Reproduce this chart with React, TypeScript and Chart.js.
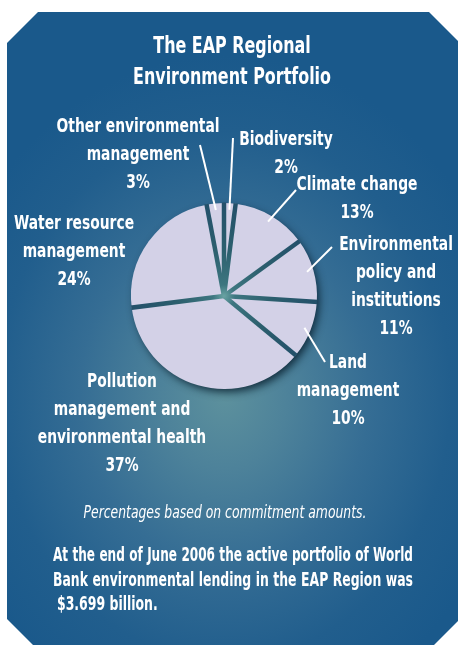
import React, { useEffect, useRef } from 'react';
import { Chart, registerables } from 'chart.js';

Chart.register(...registerables);

// ---- data ----
const titleLines = ['The EAP Regional', 'Environment Portfolio'];
const categories = [
  'Biodiversity',
  'Climate change',
  'Environmental policy and institutions',
  'Land management',
  'Pollution management and environmental health',
  'Water resource management',
  'Other environmental management',
];
const shares = [2, 13, 11, 10, 37, 24, 3];
const labelText = [
  ['Biodiversity'],
  ['Climate change'],
  ['Environmental', 'policy and', 'institutions'],
  ['Land', 'management'],
  ['Pollution', 'management and', 'environmental health'],
  ['Water resource', 'management'],
  ['Other environmental', 'management'],
];
const noteText = 'Percentages based on commitment amounts.';
const summaryLines = [
  'At the end of June 2006 the active portfolio of World',
  'Bank environmental lending in the EAP Region was',
  '$3.699 billion.',
];

// ---- layout / style ----
const FONT = '"Liberation Sans Narrow", "DejaVu Sans Condensed", "DejaVu Sans", sans-serif';
const SLICE = '#d3d1e7';
const SX = 0.77; // horizontal condensing of text
const labelLayout: { x: number; y: number; lx?: number; ly?: number }[] = [
  { x: 286, y: 140, lx: 233, ly: 138 },
  { x: 357, y: 185, lx: 296, ly: 190 },
  { x: 396, y: 245, lx: 332, ly: 247 },
  { x: 348, y: 363, lx: 325, ly: 362 },
  { x: 122, y: 382 },
  { x: 74, y: 224 },
  { x: 138, y: 127, lx: 200, ly: 145 },
];

function measureText(t: string, font: string): number {
  const c = document.createElement('canvas').getContext('2d');
  if (!c) return t.length * 10;
  c.font = font;
  return c.measureText(t).width;
}

const piePlugin = {
  id: 'pieDecor',
  beforeDatasetsDraw(chart: any) {
    const arcs = chart.getDatasetMeta(0).data;
    if (!arcs.length) return;
    const { x, y, outerRadius } = arcs[0].getProps(['x', 'y', 'outerRadius'], true);
    const ctx = chart.ctx;
    ctx.save();
    ctx.shadowColor = 'rgba(6,28,44,0.85)';
    ctx.shadowBlur = 9;
    ctx.shadowOffsetX = 3;
    ctx.shadowOffsetY = 4;
    ctx.fillStyle = SLICE;
    ctx.beginPath();
    ctx.arc(x, y, outerRadius - 1, 0, Math.PI * 2);
    ctx.fill();
    ctx.restore();
  },
  afterDatasetsDraw(chart: any) {
    const arcs = chart.getDatasetMeta(0).data;
    if (!arcs.length) return;
    const { x, y, outerRadius } = arcs[0].getProps(['x', 'y', 'outerRadius'], true);
    const ctx = chart.ctx;
    ctx.save();
    ctx.beginPath();
    ctx.arc(x, y, outerRadius + 0.5, 0, Math.PI * 2);
    ctx.clip();
    const g = ctx.createRadialGradient(x, y, 0, x, y, outerRadius);
    g.addColorStop(0, '#6aa3a3');
    g.addColorStop(0.12, '#3d7680');
    g.addColorStop(0.5, '#2c5f6e');
    g.addColorStop(1, '#23506a');
    ctx.strokeStyle = g;
    ctx.lineWidth = 4.5;
    ctx.lineCap = 'butt';
    arcs.forEach((arc: any) => {
      const { startAngle } = arc.getProps(['startAngle'], true);
      ctx.beginPath();
      ctx.moveTo(x, y);
      ctx.lineTo(x + Math.cos(startAngle) * (outerRadius + 4), y + Math.sin(startAngle) * (outerRadius + 4));
      ctx.stroke();
    });
    ctx.restore();
  },
  afterDraw(chart: any) {
    const arcs = chart.getDatasetMeta(0).data;
    const ctx = chart.ctx;
    ctx.save();
    ctx.fillStyle = '#ffffff';
    ctx.strokeStyle = '#ffffff';
    ctx.lineWidth = 2;
    ctx.font = `bold 20px ${FONT}`;
    ctx.textAlign = 'center';
    ctx.textBaseline = 'middle';
    arcs.forEach((arc: any, i: number) => {
      const L = labelLayout[i];
      if (!L) return;
      const { x, y, startAngle, endAngle, outerRadius } = arc.getProps(
        ['x', 'y', 'startAngle', 'endAngle', 'outerRadius'],
        true
      );
      if (L.lx !== undefined && L.ly !== undefined) {
        const mid = (startAngle + endAngle) / 2;
        const r = outerRadius * 0.93;
        ctx.beginPath();
        ctx.moveTo(L.lx, L.ly);
        ctx.lineTo(x + Math.cos(mid) * r, y + Math.sin(mid) * r);
        ctx.stroke();
      }
      const lines = [...labelText[i], `${shares[i]}%`];
      lines.forEach((t, k) => {
        ctx.save();
        ctx.translate(L.x, L.y + k * 28);
        ctx.scale(SX, 1);
        ctx.fillText(t, 0, 0);
        ctx.restore();
      });
    });
    ctx.restore();
  },
};

export default function App() {
  const ref = useRef<HTMLCanvasElement>(null);
  useEffect(() => {
    const chart = new Chart(ref.current as HTMLCanvasElement, {
      type: 'pie',
      data: {
        labels: categories,
        datasets: [
          {
            data: shares,
            backgroundColor: SLICE,
            borderWidth: 0,
            radius: 93,
          } as any,
        ],
      },
      options: {
        responsive: false,
        animation: false,
        devicePixelRatio: 1,
        layout: { padding: { left: 0, right: 10, top: 92, bottom: 145 } },
        plugins: {
          legend: { display: false },
          tooltip: { enabled: false },
          title: { display: false },
        },
      },
      plugins: [piePlugin],
    });
    return () => chart.destroy();
  }, []);

  const cut = 31;
  const summaryFont = `bold 19px ${FONT}`;
  const summaryWidth = 360;
  const baseScale = 0.73;
  return (
    <div style={{ position: 'absolute', left: 0, top: 0, width: 458, height: 645, overflow: 'hidden', background: '#fff' }}>
      <div
        style={{
          position: 'absolute',
          left: 7,
          top: 12,
          width: 453,
          height: 638,
          clipPath: `polygon(${cut}px 0, calc(100% - ${cut}px) 0, 100% ${cut}px, 100% calc(100% - ${cut}px), calc(100% - ${cut}px) 100%, ${cut}px 100%, 0 calc(100% - ${cut}px), 0 ${cut}px)`,
          background:
            'radial-gradient(ellipse 290px 340px at 48% 60%, #5d919d 0%, #4d829a 22%, #356d94 50%, #215e8d 78%, #1a598b 100%)',
        }}
      />
      <canvas ref={ref} width={458} height={645} style={{ position: 'absolute', left: 0, top: 0 }} />
      <div
        style={{
          position: 'absolute',
          left: 0,
          width: 464,
          top: 30,
          textAlign: 'center',
          color: '#fff',
          fontFamily: FONT,
          fontWeight: 'bold',
          fontSize: 23,
          lineHeight: '31px',
          transform: 'scaleX(0.77)',
          transformOrigin: '232px 0',
        }}
      >
        {titleLines.map((t) => (
          <div key={t}>{t}</div>
        ))}
      </div>
      <div
        style={{
          position: 'absolute',
          left: 0,
          width: 450,
          top: 502,
          textAlign: 'center',
          color: '#fff',
          fontFamily: FONT,
          fontStyle: 'italic',
          fontSize: 17,
          lineHeight: '20px',
          transform: 'scaleX(0.81)',
          transformOrigin: '225px 0',
        }}
      >
        {noteText}
      </div>
      {summaryLines.map((t, i) => {
        const natural = measureText(t, summaryFont);
        const justify = i < summaryLines.length - 1;
        const s = justify ? Math.min(baseScale, summaryWidth / (natural + 2)) : baseScale;
        return (
          <div
            key={t}
            style={{
              position: 'absolute',
              left: justify ? 53 : 57,
              top: 542 + i * 24.5,
              width: summaryWidth / s,
              color: '#fff',
              fontFamily: FONT,
              fontWeight: 'bold',
              fontSize: 19,
              lineHeight: '24.5px',
              whiteSpace: 'nowrap',
              textAlign: justify ? 'justify' : 'left',
              textAlignLast: (justify ? 'justify' : 'left') as any,
              transform: `scaleX(${s})`,
              transformOrigin: '0 0',
            }}
          >
            {t}
          </div>
        );
      })}
    </div>
  );
}
